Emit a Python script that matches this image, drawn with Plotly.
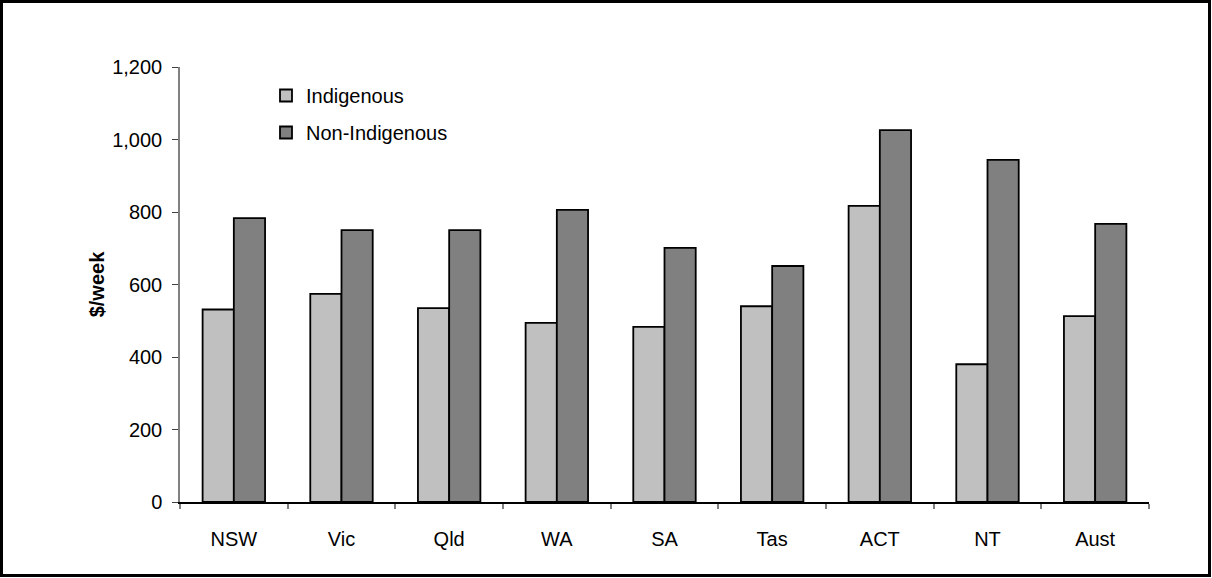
import plotly.graph_objects as go

categories = ["NSW", "Vic", "Qld", "WA", "SA", "Tas", "ACT", "NT", "Aust"]
indigenous = [531, 574, 535, 494, 483, 540, 817, 380, 513]
non_indigenous = [783, 750, 750, 806, 701, 651, 1026, 944, 767]
y_ticks = [0, 200, 400, 600, 800, 1000, 1200]
y_tick_labels = ["0", "200", "400", "600", "800", "1,000", "1,200"]

W, H = 1212, 578
L, R, T, B = 180, 63, 67, 76
pw, ph = W - L - R, H - T - B

def px_x(p):
    return (p - L) / pw

def px_y(p):
    return (H - B - p) / ph

fig = go.Figure()
fig.add_trace(go.Bar(
    x=categories, y=indigenous, name="Indigenous", legendgroup="a",
    marker=dict(color="#C0C0C0", line=dict(color="#000000", width=1.8)),
))
fig.add_trace(go.Bar(
    x=categories, y=non_indigenous, name="Non-Indigenous", legendgroup="b",
    marker=dict(color="#808080", line=dict(color="#000000", width=1.8)),
))

font = "Liberation Sans, Arial, sans-serif"
fig.update_layout(
    width=W, height=H,
    margin=dict(l=L, r=R, t=T, b=B, pad=0),
    paper_bgcolor="white", plot_bgcolor="white",
    barmode="group", bargap=0.42, bargroupgap=0,
    font=dict(family=font, size=20, color="black"),
    showlegend=True,
    legend=dict(
        x=px_x(266), y=px_y(76), xanchor="left", yanchor="top",
        bgcolor="rgba(0,0,0,0)", borderwidth=0,
        font=dict(size=20, family=font, color="black"),
        traceorder="grouped", tracegroupgap=8,
    ),
    xaxis=dict(
        type="category", showline=True, linecolor="black", linewidth=1.5,
        ticks="outside", tickson="boundaries", ticklen=5, tickcolor="#808080",
        tickwidth=1.5, showgrid=False, zeroline=False,
        tickfont=dict(size=20, family=font, color="black"),
        ticklabelstandoff=18,
    ),
    yaxis=dict(
        range=[0, 1200], tickvals=y_ticks, ticktext=y_tick_labels,
        showline=True, linecolor="#808080", linewidth=1.5,
        ticks="outside", ticklen=6, tickcolor="#404040", tickwidth=1,
        showgrid=False, zeroline=False,
        tickfont=dict(size=20, family=font, color="black"),
        ticklabelstandoff=6,
        title=dict(text="<b>$/week</b>", font=dict(size=20, family=font, color="black"), standoff=2),
    ),
    shapes=[dict(
        type="rect", xref="paper", yref="paper",
        x0=px_x(1.5), x1=px_x(W - 2.5), y0=px_y(H - 2.5), y1=px_y(1.5),
        line=dict(color="black", width=3), fillcolor="rgba(0,0,0,0)", layer="below",
    )],
)

fig.write_html(
    "out.html",
    config={"displayModeBar": False},
    post_script="document.body.style.margin='0';document.body.style.overflow='hidden';",
)
